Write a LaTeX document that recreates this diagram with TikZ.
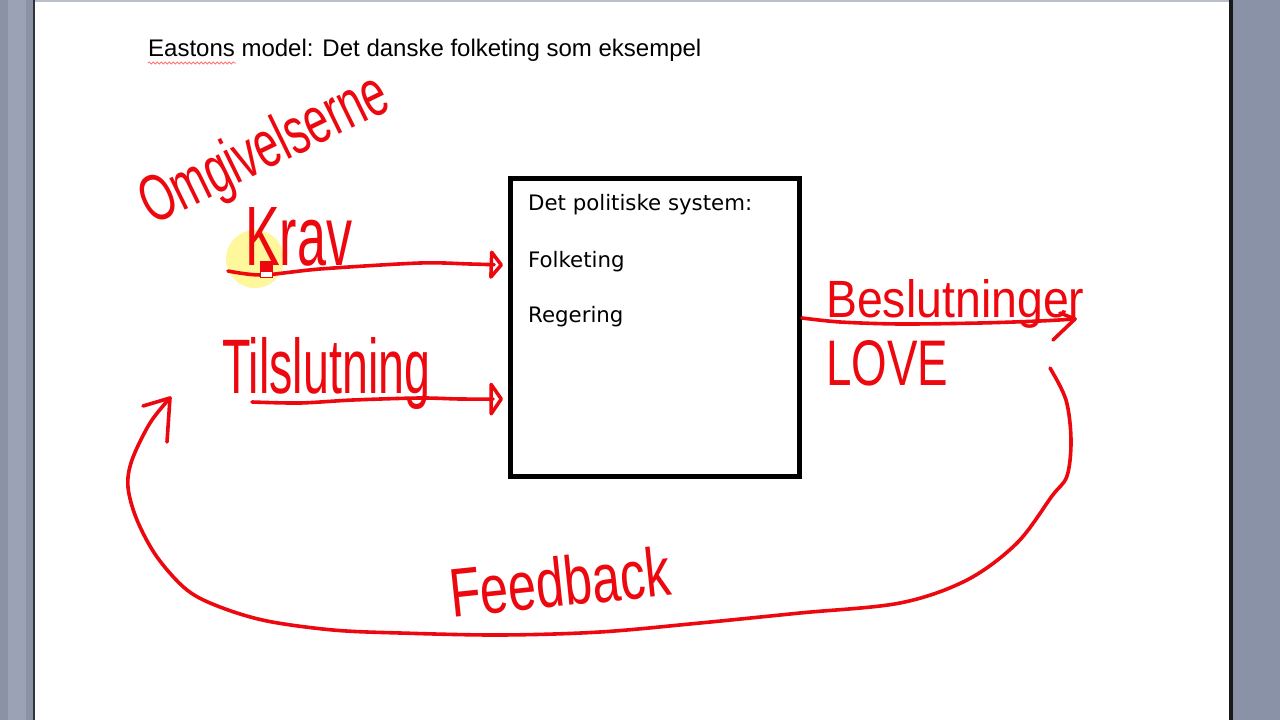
\documentclass[tikz,border=0pt]{standalone}
\usepackage{fontspec}
\setmainfont{Liberation Sans}
\newfontfamily\boxfont{DejaVu Sans}
\newfontfamily\hwfont{Liberation Sans}
\usetikzlibrary{arrows.meta,decorations.pathmorphing}
\definecolor{pen}{RGB}{236,8,14}
\definecolor{bar}{RGB}{138,146,168}
\definecolor{hl}{RGB}{255,247,155}
\newcommand{\hwtext}[3]{\resizebox{#1}{#2}{\hwfont #3}}
\begin{document}
\begin{tikzpicture}[x=1pt,y=-1pt,
  hand/.style={inner sep=0pt, anchor=base west, text=pen},
  penline/.style={draw=pen, line width=3.6pt, line cap=round, line join=round},
  boxtext/.style={inner sep=0pt, anchor=base west, font=\boxfont\fontsize{21.3}{24}\selectfont},
]
\useasboundingbox (0,0) rectangle (1280,720);
\fill[white] (0,0) rectangle (1280,720);
% window frame
\fill[bar] (0,0) rectangle (33,720);
\fill[bar!85!white] (8,0) rectangle (26,720);
\fill[black!65!bar] (33,0) rectangle (35,720);
\fill[black!90] (1229,0) rectangle (1233,720);
\fill[bar] (1233,0) rectangle (1280,720);
\fill[bar!60!white] (35,0) rectangle (1229,2);
% title
\node[inner sep=0pt, anchor=base west, font=\fontsize{24}{28}\selectfont] (title) at (148,56) {Eastons model: Det danske folketing som eksempel};
\draw[red!55!white, line width=0.8pt, decorate, decoration={snake, amplitude=1.1pt, segment length=4pt}] (148,63) -- (236,63);
% system box
\node[draw=black, line width=5pt, minimum width=289pt, minimum height=298pt, inner sep=0pt, anchor=north west] (sys) at (508,176) {};
\node[boxtext] (t1) at (528,210) {Det politiske system:};
\node[boxtext] (t2) at (528,267) {Folketing};
\node[boxtext] (t3) at (528,322) {Regering};
% highlight
\fill[hl] (255,259) circle (29);
% connectors
\coordinate (k0) at (228,271);
\coordinate (k1) at (503,265);
\draw[penline, -{Triangle[open, round, length=14pt, width=34pt]}] plot[smooth, tension=0.5] coordinates {(k0) (262,275) (320,269) (420,263) (470,264) (k1)};
\coordinate (s0) at (252,402);
\coordinate (s1) at (503,399);
\draw[penline, -{Triangle[open, round, length=14pt, width=40pt]}] plot[smooth, tension=0.5] coordinates {(s0) (300,403) (353,400) (420,398) (460,399) (s1)};
\coordinate (b0) at (802,318);
\coordinate (b1) at (1075,319);
\draw[penline] plot[smooth, tension=0.5] coordinates {(b0) (840,322) (900,324) (980,323) (1040,321) (b1)};
\draw[penline] (b1) ++(-15,-6) -- (b1) -- ++(-22,21);
\coordinate (f0) at (1050,368);
\coordinate (f1) at (170,398);
\draw[penline] plot[smooth, tension=0.55] coordinates {(f0) (1066,400) (1071,440) (1067,476) (1052,496) (1017,543) (967,580) (900,603) (800,613) (700,623) (600,632) (500,635) (400,633) (333,630) (267,621) (220,607) (187,590) (157,557) (137,520) (128,487) (132,460) (150,423) (f1)};
\draw[penline] (f1) ++(-27,8) -- (f1) -- ++(-3,44);
% handwritten labels
\node[hand, rotate=26] (omg) at (152,226) {\hwtext{268pt}{48pt}{Omgivelserne}};
\node[hand] (krav) at (245,265) {\hwtext{107pt}{58pt}{Krav}};
\node[hand] (til) at (222,393) {\hwtext{208pt}{56pt}{Tilslutning}};
\node[hand] (bes) at (826,317) {\hwtext{258pt}{38pt}{Beslutninger}};
\node[hand] (love) at (826,385) {\hwtext{122pt}{45pt}{LOVE}};
\node[hand, rotate=6] (fb) at (452,618) {\hwtext{222pt}{50pt}{Feedback}};
% pen cursor
\fill[pen] (260,261) rectangle (272,272);
\fill[white] (260.5,272) rectangle (271.5,277);
\draw[pen, line width=0.8pt] (260,261) rectangle (272,277);
\end{tikzpicture}
\end{document}
